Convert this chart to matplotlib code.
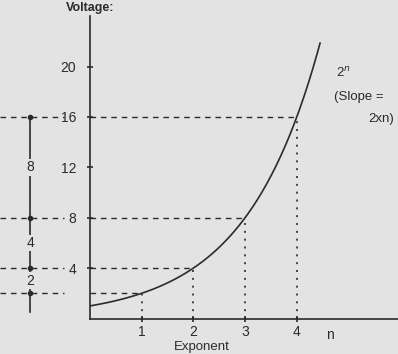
import numpy as np
import matplotlib.pyplot as plt

plt.rcParams['font.family'] = ['Liberation Sans', 'DejaVu Sans']

# points on the 2^n curve that get dashed guide lines
exps = [1, 2, 3, 4]
powers = [2, 4, 8, 16]
yticks = [4, 8, 12, 16, 20]
xticks = [1, 2, 3, 4]
# left scale: levels and the size of each step between them
scale_levels = [16, 8, 4, 2]
step_labels = ['8', '4', '2']

bg = '#e3e3e3'
ink = '#2b2b2b'

fig = plt.figure(figsize=(3.98, 3.54), dpi=100, facecolor=bg)
ax = fig.add_axes([90/398, 35.5/354, 308/398, 302.5/354])
ax.set_facecolor(bg)
ax.set_xlim(0, 308/51.7)
ax.set_ylim(0, 302.5/12.6)
for s in ['top', 'right']:
    ax.spines[s].set_visible(False)
for s in ['left', 'bottom']:
    ax.spines[s].set_color(ink)
    ax.spines[s].set_linewidth(1.2)

ax.set_xticks(xticks)
ax.set_yticks(yticks)
ax.tick_params(direction='inout', length=4, width=1.2, color=ink,
               labelsize=10, labelcolor=ink)
ax.tick_params(axis='y', pad=8)
ax.tick_params(axis='x', pad=3)
for lab in ax.get_yticklabels():
    lab.set_bbox(dict(facecolor=bg, edgecolor='none', pad=1))

# the curve
n = np.linspace(0, 4.45, 200)
ax.plot(n, 2**n, color=ink, lw=1.2, zorder=3)

x_left = -90/51.7
dash = (0, (4, 3.5))
for e, p in zip(exps, powers):
    ax.plot([0, e], [p, p], color=ink, lw=1, ls=dash, zorder=2)
    ax.plot([e, e], [0, p], color=ink, lw=1.2, ls=(0, (1.2, 3.5)), zorder=2)
    # dashes carried out to the left scale
    ax.plot([x_left, -0.5], [p, p], color=ink, lw=1, ls=dash, clip_on=False)

# left step scale
xs = -1.16
ax.plot([xs, xs], [scale_levels[0], 0.5], color=ink, lw=1.2, clip_on=False)
ax.plot([xs]*len(scale_levels), scale_levels, 'o', color=ink, ms=3, clip_on=False)
for i, lab in enumerate(step_labels):
    mid = (scale_levels[i] + scale_levels[i+1]) / 2
    ax.text(xs, mid, lab, ha='center', va='center', fontsize=10, color=ink,
            bbox=dict(facecolor=bg, edgecolor='none', pad=1), clip_on=False)

ax.text(4.65, -0.75, 'n', ha='center', va='top', fontsize=10, color=ink)
ax.text(2.16, -1.75, 'Exponent', ha='center', va='top', fontsize=9.5, color=ink)
ax.text(0.0, 24.2, 'Voltage:', ha='center', va='bottom', fontsize=9,
        fontweight='bold', color=ink, clip_on=False)

ax.text(4.75, 19.5, '2$^n$', fontsize=9.5, color=ink, va='center')
ax.text(4.72, 17.6, '(Slope =', fontsize=9.5, color=ink, va='center')
ax.text(5.38, 15.8, '2xn)', fontsize=9.5, color=ink, va='center')

fig.savefig('out.png', dpi=100, facecolor=bg)
